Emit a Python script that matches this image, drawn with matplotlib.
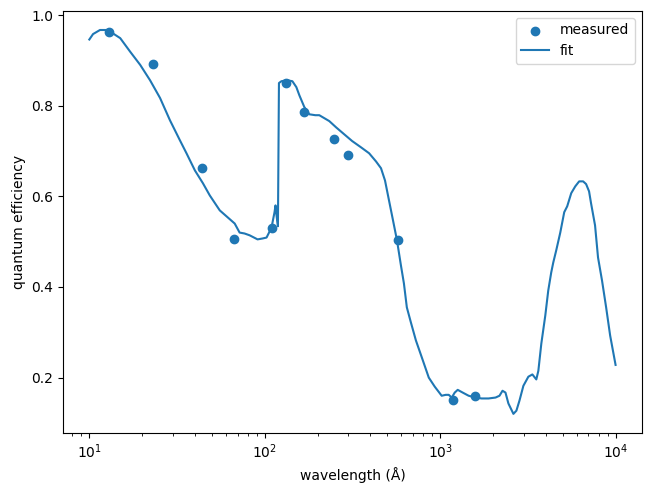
import matplotlib
matplotlib.use("Agg")
import matplotlib.pyplot as plt

# measured points
meas_wl = [13.0, 23.1, 43.7, 66.5, 110.6, 133, 168, 249, 299, 574, 1178, 1571]
meas_qe = [0.962, 0.892, 0.662, 0.505, 0.531, 0.850, 0.786, 0.726, 0.691, 0.503, 0.151, 0.160]

# fitted curve
fit_wl = [10, 10.5, 11.5, 12.5, 13.2, 15.0, 17.1, 19.5, 22.2, 25.3, 28.8, 32.8, 35.8,
          40.0, 44.4, 48.6, 55.4, 67.4, 71.9, 76.7, 82.0, 91.0, 97.2, 102.4, 109.3,
          113.7, 115.2, 116.7, 118.9, 120.5, 124.5, 134.6, 143.7, 151.4, 157.5, 168.1,
          179.6, 194.2, 204.6, 233.3, 255.5, 283.6, 314.9, 354.2, 393.6, 430.8, 460.0,
          484.8, 510.9, 538.5, 567.3, 597.3, 621.3, 645.7, 680.7, 727.4, 786.9, 861.3,
          931.6, 1020, 1076, 1119, 1164, 1211, 1259, 1344, 1453, 1592, 1722, 1887, 2069,
          2179, 2267, 2357, 2449, 2616, 2720, 2831, 2982, 3183, 3355, 3533, 3629, 3773,
          3975, 4132, 4297, 4414, 4590, 4839, 5097, 5300, 5588, 5891, 6200, 6532, 6792,
          7061, 7245, 7638, 7943, 8372, 8834, 9311, 10000]
fit_qe = [0.946, 0.958, 0.967, 0.967, 0.963, 0.949, 0.919, 0.890, 0.856, 0.817, 0.768,
          0.724, 0.695, 0.657, 0.629, 0.602, 0.569, 0.540, 0.520, 0.518, 0.514, 0.505,
          0.507, 0.509, 0.531, 0.565, 0.580, 0.558, 0.534, 0.850, 0.854, 0.856, 0.854,
          0.841, 0.823, 0.797, 0.781, 0.779, 0.779, 0.766, 0.752, 0.737, 0.722, 0.708,
          0.695, 0.677, 0.662, 0.635, 0.591, 0.547, 0.503, 0.448, 0.408, 0.355, 0.322,
          0.282, 0.244, 0.200, 0.180, 0.160, 0.162, 0.162, 0.156, 0.167, 0.173, 0.167,
          0.160, 0.156, 0.154, 0.154, 0.156, 0.160, 0.171, 0.167, 0.143, 0.120, 0.127,
          0.149, 0.182, 0.202, 0.207, 0.196, 0.215, 0.275, 0.337, 0.392, 0.432, 0.454,
          0.481, 0.520, 0.565, 0.578, 0.607, 0.622, 0.633, 0.633, 0.627, 0.611, 0.585,
          0.536, 0.465, 0.414, 0.355, 0.293, 0.228]

fig, ax = plt.subplots(figsize=(6.51, 4.91), dpi=100)
ax.scatter(meas_wl, meas_qe, label="measured")
ax.plot(fit_wl, fit_qe, label="fit")
ax.set_xscale("log")
ax.set_xlabel("wavelength (Å)")
ax.set_ylabel("quantum efficiency")
ax.legend(loc="upper right")
fig.subplots_adjust(left=0.0968, right=0.986, top=0.978, bottom=0.118)
fig.savefig("out.png", dpi=100)
